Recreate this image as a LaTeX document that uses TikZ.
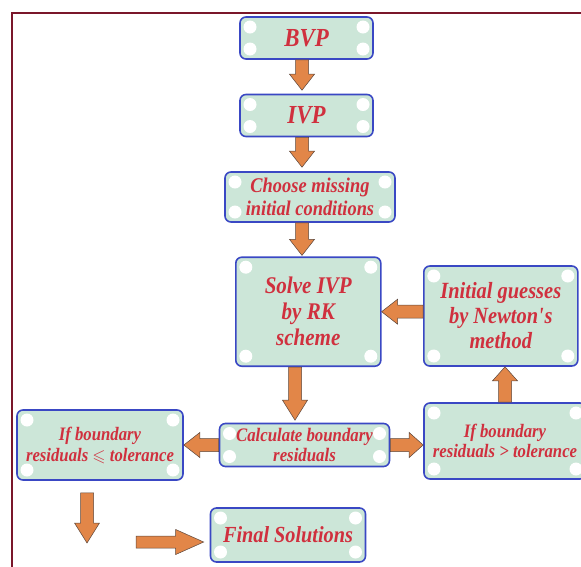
\documentclass[tikz,border=0pt]{standalone}
\usepackage{fontspec}
\setmainfont{Liberation Serif}
\newfontfamily\boxfont[FakeStretch=0.88]{Liberation Serif}
\usepackage{amssymb}
\usetikzlibrary{calc}

\definecolor{boxfill}{RGB}{204,230,216}
\definecolor{boxline}{RGB}{58,72,196}
\definecolor{textred}{RGB}{208,48,62}
\definecolor{arrowfill}{RGB}{226,134,72}
\definecolor{arrowline}{RGB}{90,70,60}
\definecolor{framered}{RGB}{122,22,42}

\tikzset{
  shaft half/.store in=\shafthalf, shaft half=6.5pt,
  head half/.store in=\headhalf, head half=12.5pt,
  head len/.store in=\headlen, head len=16pt,
  box/.style={rectangle, rounded corners=6pt, draw=boxline, line width=1.6pt,
    fill=boxfill, inner sep=0pt, align=center, text=textred,
    path picture={
      \foreach \cn/\dx/\dy in {north west/10/-10, north east/-10/-10,
                               south west/10/10, south east/-10/10}
        \fill[white] ([xshift=\dx pt,yshift=\dy pt]path picture bounding box.\cn) circle (6.5pt);
    }},
  txt/.style 2 args={font=\boxfont\fontsize{#1}{#2}\selectfont\bfseries\itshape},
  blockarr/.style={fill=arrowfill, draw=arrowline, line width=0.5pt, line join=miter,
    to path={let \p1=(\tikztostart), \p2=(\tikztotarget),
      \n1={atan2(\y2-\y1,\x2-\x1)}, \n2={veclen(\x2-\x1,\y2-\y1)} in
      ++(\n1+90:\shafthalf) -- ++(\n1:\n2-\headlen) -- ++(\n1+90:\headhalf-\shafthalf)
      -- (\tikztotarget)
      -- ($(\tikztotarget)+(\n1+180:\headlen)+(\n1-90:\headhalf)$)
      -- ++(\n1+90:\headhalf-\shafthalf) -- ++(\n1+180:\n2-\headlen) -- cycle}},
}

\begin{document}
\begin{tikzpicture}[x=1pt, y=-1pt]
  \useasboundingbox (0,0) rectangle (581,566);

  % Frame
  \draw[framered, line width=1.8pt] (12,575) -- (12,12.6) -- (590,12.6);

  % Boxes
  \node[box, txt={26}{28}, minimum width=133pt, minimum height=42pt] (bvp) at (306.5,38) {BVP};
  \node[box, txt={26}{28}, minimum width=133pt, minimum height=42pt] (ivp) at (306.5,115.5) {IVP};
  \node[box, txt={20.9}{23}, minimum width=170pt, minimum height=50pt] (choose) at (310,197)
    {Choose missing\\initial conditions};
  \node[box, txt={23.9}{26}, minimum width=145pt, minimum height=109pt] (solve) at (308.3,311.7)
    {Solve IVP\\by RK\\scheme};
  \node[box, txt={23.2}{25}, minimum width=154pt, minimum height=100pt] (initial) at (500.8,316)
    {Initial guesses\\by Newton\textquotesingle s\\method};
  \node[box, txt={19.1}{20.5}, minimum width=170pt, minimum height=43pt] (calc) at (304.5,445)
    {Calculate boundary\\residuals};
  \node[box, txt={19}{20}, minimum width=162pt, minimum height=76pt] (ifgt) at (505,441)
    {If boundary\\residuals > tolerance};
  \node[box, txt={19}{21}, minimum width=166pt, minimum height=70pt] (ifle) at (100,445)
    {If boundary\\residuals {\normalfont\fontsize{17}{17}\selectfont$\leqslant$} tolerance};
  \node[box, txt={23}{24}, minimum width=155pt, minimum height=54pt] (final) at (288,535)
    {Final Solutions};

  % Free ends
  \coordinate (drop) at (87,543);
  \coordinate (feed) at (136,542);

  % Arrows
  \draw[blockarr] ([xshift=-4.5pt]bvp.south) to ([xshift=-4.5pt,yshift=3.5pt]ivp.north);
  \draw[blockarr] ([xshift=-4.5pt]ivp.south) to ([xshift=-8pt,yshift=4pt]choose.north);
  \draw[blockarr] ([xshift=-8pt]choose.south) to ([xshift=-6.3pt,yshift=1pt]solve.north);
  \draw[blockarr, head len=20pt] ([xshift=-13.3pt]solve.south) to ([xshift=-9.5pt,yshift=2.5pt]calc.north);
  \draw[blockarr] (initial.west |- solve.east) to (solve.east);
  \draw[blockarr] (calc.west) to (ifle.east);
  \draw[blockarr, head len=14pt] (calc.east) to (ifgt.west |- calc.east);
  \draw[blockarr, head len=14pt] (ifgt.north) to (ifgt.north |- initial.south);
  \draw[blockarr, head len=20pt] ([xshift=-13pt,yshift=-12pt]ifle.south) to (drop);
  \draw[blockarr, head len=28pt, shaft half=6pt] (feed) to ([xshift=-6pt,yshift=-7pt]final.west);
\end{tikzpicture}
\end{document}
